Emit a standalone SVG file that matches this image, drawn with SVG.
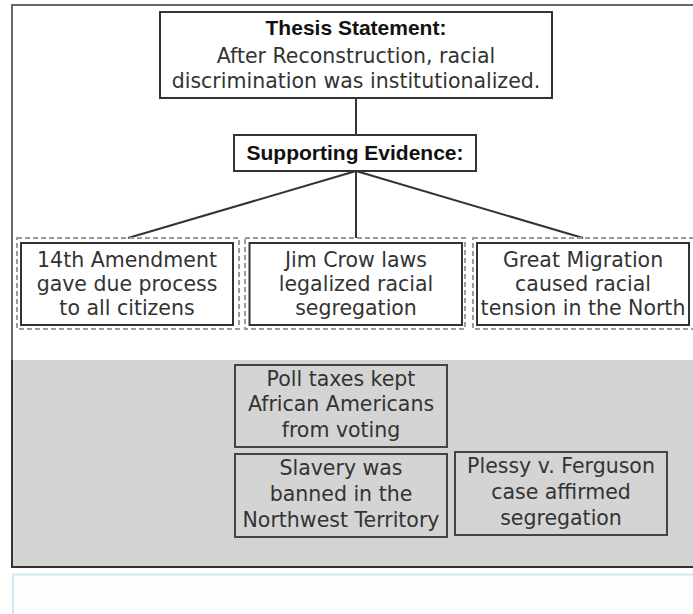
<svg xmlns="http://www.w3.org/2000/svg" width="693" height="614" viewBox="0 0 693 614">
<style>
text{font-family:"DejaVu Sans","Liberation Sans",sans-serif;font-size:20.5px;fill:#333;text-anchor:middle}
.b{font-family:"Liberation Sans",Arial,sans-serif;font-weight:bold;font-size:21px;fill:#111}
.solid{fill:#fff;stroke:#333;stroke-width:2}
.gbox{fill:none;stroke:#444;stroke-width:2}
.dash{fill:none;stroke:#9a9a9a;stroke-width:2;stroke-dasharray:5 3}
.conn{stroke:#333;stroke-width:2;fill:none}
</style>
<rect x="0" y="0" width="693" height="614" fill="#fff"/>
<rect x="12" y="360" width="690" height="207" fill="#d4d4d4"/>
<path d="M12,567 V5 H700" fill="none" stroke="#666" stroke-width="2"/>
<path d="M12,360 V567 H700" fill="none" stroke="#333" stroke-width="2"/>
<rect x="13" y="574.5" width="690" height="50" fill="#fdfdfd" stroke="#cfe9f2" stroke-width="2"/>
<g id="connectors">
<line class="conn" x1="356" y1="98" x2="356" y2="135"/>
<line class="conn" x1="356" y1="171" x2="128" y2="238"/>
<line class="conn" x1="356" y1="171" x2="356" y2="238"/>
<line class="conn" x1="356" y1="171" x2="583" y2="238"/>
</g>
<g id="thesis">
<rect class="solid" x="160" y="12" width="392" height="86"/>
<text class="b" x="356" y="35">Thesis Statement:</text>
<text x="356" y="63">After Reconstruction, racial</text>
<text x="356" y="88">discrimination was institutionalized.</text>
</g>
<g id="support">
<rect class="solid" x="234" y="135" width="242" height="36"/>
<text class="b" x="355" y="160">Supporting Evidence:</text>
</g>
<g id="ev1">
<rect class="dash" x="17" y="238" width="222" height="91"/>
<rect class="solid" x="21" y="243" width="212" height="82"/>
<text x="127" y="267">14th Amendment</text>
<text x="127" y="291">gave due process</text>
<text x="127" y="315">to all citizens</text>
</g>
<g id="ev2">
<rect class="dash" x="245" y="238" width="220" height="91"/>
<rect class="solid" x="249.5" y="243" width="212.5" height="82"/>
<text x="356" y="267">Jim Crow laws</text>
<text x="356" y="291">legalized racial</text>
<text x="356" y="315">segregation</text>
</g>
<g id="ev3">
<rect class="dash" x="473" y="238" width="222" height="91"/>
<rect class="solid" x="477" y="243" width="212" height="82"/>
<text x="583" y="267">Great Migration</text>
<text x="583" y="291">caused racial</text>
<text x="583" y="315">tension in the North</text>
</g>
<g id="poll">
<rect class="gbox" x="235" y="365" width="212" height="82"/>
<text x="341" y="386">Poll taxes kept</text>
<text x="341" y="411">African Americans</text>
<text x="341" y="437">from voting</text>
</g>
<g id="slavery">
<rect class="gbox" x="235" y="454" width="212" height="83"/>
<text x="341" y="475">Slavery was</text>
<text x="341" y="501">banned in the</text>
<text x="341" y="527">Northwest Territory</text>
</g>
<g id="plessy">
<rect class="gbox" x="455" y="452" width="212" height="83"/>
<text x="561" y="473">Plessy v. Ferguson</text>
<text x="561" y="499">case affirmed</text>
<text x="561" y="525">segregation</text>
</g>
</svg>
